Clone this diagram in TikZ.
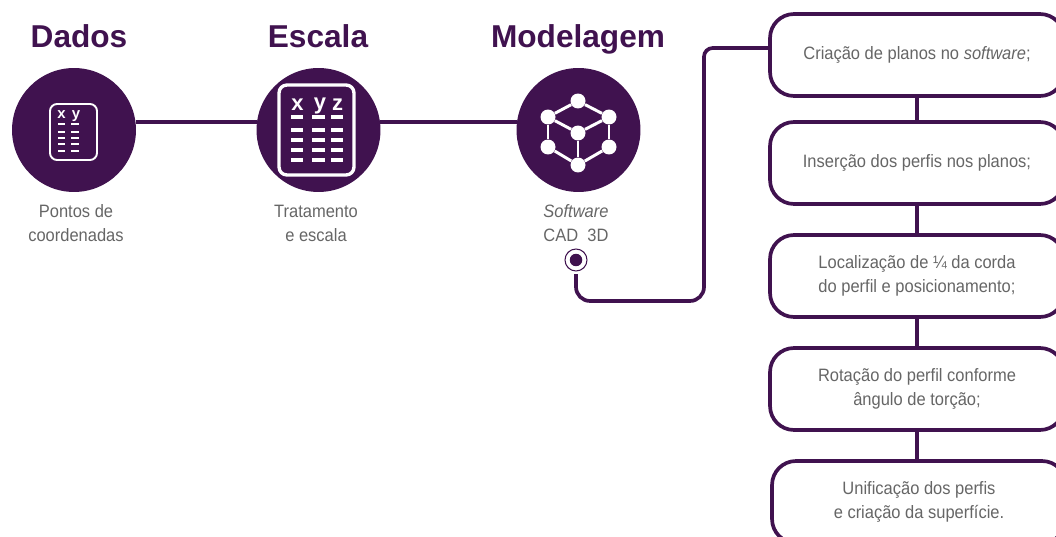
\documentclass[tikz,border=0pt]{standalone}
\usepackage{fontspec}
\setmainfont{Liberation Sans}
\newfontfamily\corpo[FakeStretch=0.92]{Liberation Sans}
\usepackage{tikz}
\usetikzlibrary{positioning}
\definecolor{roxo}{HTML}{40124F}
\definecolor{cinza}{HTML}{666666}
\tikzset{
etapa/.style={circle, fill=roxo, minimum size=2.48cm, inner sep=0pt, outer sep=0pt}, % round step discs
titulo/.style={text=roxo, font=\fontsize{18}{20}\selectfont\bfseries, inner sep=0pt, anchor=base},
legenda/.style={text=cinza, font=\corpo\fontsize{10.2}{13.6}\selectfont, align=center, inner sep=0pt},
caixa/.style={draw=roxo, line width=2.1pt, rounded corners=0.48cm, fill=white, minimum width=5.88cm, minimum height=1.64cm, inner sep=0pt, outer sep=0pt, text=cinza, font=\corpo\fontsize{10.2}{13.6}\selectfont, align=center},
ligacao/.style={draw=roxo, line width=2.1pt},
folha/.style={draw=white, rounded corners},
traco/.style={draw=white, line width=1.3pt},
letra/.style={text=white, inner sep=0pt},
vertice/.style={circle, fill=white, minimum size=0.3cm, inner sep=0pt},
aresta/.style={draw=white, line width=1.7pt}
}
\begin{document}
\begin{tikzpicture}[x=0.02cm, y=0.02cm]
    \clip (0,0) rectangle (1056,-537);
    % titles
    \node [titulo] (tdados) at (79,-47.5) {Dados};
    \node [titulo] (tescala) at (318,-47.5) {Escala};
    \node [titulo] (tmodelagem) at (578,-47.5) {Modelagem};
    % discs and their links
    \node [etapa] (dados) at (74,-130) {};
    \node [etapa] (escala) at (318.5,-130) {};
    \node [etapa] (modelagem) at (578.5,-130) {};
    \draw [ligacao] ([yshift=0.16cm]dados.east) -- ([yshift=0.16cm]escala.west);
    \draw [ligacao] ([yshift=0.16cm]escala.east) -- ([yshift=0.16cm]modelagem.west);
    \node [legenda] (ldados) at (76,-223.5) {Pontos de\\coordenadas};
    \node [legenda] (lescala) at (316,-223.5) {Tratamento\\e escala};
    \node [legenda] (lmodelagem) at (576,-223.5) {\textit{Software}\\CAD\ \ 3D};
    % small sheet
    \draw [folha, line width=1.1pt] (50,-104) rectangle (97,-160);
    \node [letra, font=\fontsize{8.5}{9}\selectfont\bfseries] (xa) at (61.5,-115) {x};
    \node [letra, font=\fontsize{8.5}{9}\selectfont\bfseries] (ya) at (76,-116) {y};
    \foreach \y in {124,132,138,144,151} {
        \draw [traco] (58,-\y) -- (65,-\y);
        \draw [traco] (71,-\y) -- (79,-\y);
    }
    % large sheet
    \draw [folha, line width=1.9pt, rounded corners=0.16cm] (279,-85) rectangle (354,-175);
    \node [letra, font=\fontsize{12.5}{13}\selectfont\bfseries] (xb) at (297.5,-105) {x};
    \node [letra, font=\fontsize{12.5}{13}\selectfont\bfseries] (yb) at (320,-106) {y};
    \node [letra, font=\fontsize{12.5}{13}\selectfont\bfseries] (zb) at (337.5,-105) {z};
    \foreach \y in {117,130,140,150,160} {
        \draw [traco, line width=2pt] (291,-\y) -- (303,-\y);
        \draw [traco, line width=2pt] (312,-\y) -- (325,-\y);
        \draw [traco, line width=2pt] (331,-\y) -- (343,-\y);
    }
    % cube
    \node [vertice] (topo) at (578,-101) {};
    \node [vertice] (esqa) at (548,-117) {};
    \node [vertice] (dira) at (609,-117) {};
    \node [vertice] (meio) at (578,-133) {};
    \node [vertice] (esqb) at (548,-147) {};
    \node [vertice] (dirb) at (609,-147) {};
    \node [vertice] (base) at (578,-165) {};
    \foreach \a/\b in {topo/esqa,topo/dira,esqa/meio,dira/meio,meio/base,esqa/esqb,dira/dirb,esqb/base,dirb/base} {
        \draw [aresta] (\a) -- (\b);
    }
    % steps on the right
    \node [caixa] (caixa1) at (917,-55) {\raisebox{-1.5pt}{Criação de planos no \textit{software};}};
    \node [caixa] (caixa2) at (917,-163) {\raisebox{-1pt}{Inserção dos perfis nos planos;}};
    \node [caixa] (caixa3) at (917,-276) {Localização de ¼ da corda\\do perfil e posicionamento;};
    \node [caixa] (caixa4) at (917,-389) {Rotação do perfil conforme\\ângulo de torção;};
    \node [caixa] (caixa5) at (919,-502) {Unificação dos perfis\\e criação da superfície.};
    \foreach \a/\b in {caixa1/caixa2,caixa2/caixa3,caixa3/caixa4} {
        \draw [ligacao] (\a) -- (\b);
    }
    \draw [ligacao] (caixa4.south) -- (caixa4.south |- caixa5.north);
    % marker and elbow link
    \node [circle, draw=roxo, line width=0.6pt, fill=white, minimum size=0.44cm, inner sep=0pt] (marca) at (576,-260) {};
    \node [circle, fill=roxo, minimum size=0.25cm, inner sep=0pt] (miolo) at (576,-260) {};
    \coordinate (canto) at (704,-301);
    \coordinate (entrada) at (770,-48);
    \draw [ligacao, shorten <=1.5pt] (marca.south) [rounded corners=8pt] |- (canto) [rounded corners=5pt] |- (entrada);
\end{tikzpicture}
\end{document}
